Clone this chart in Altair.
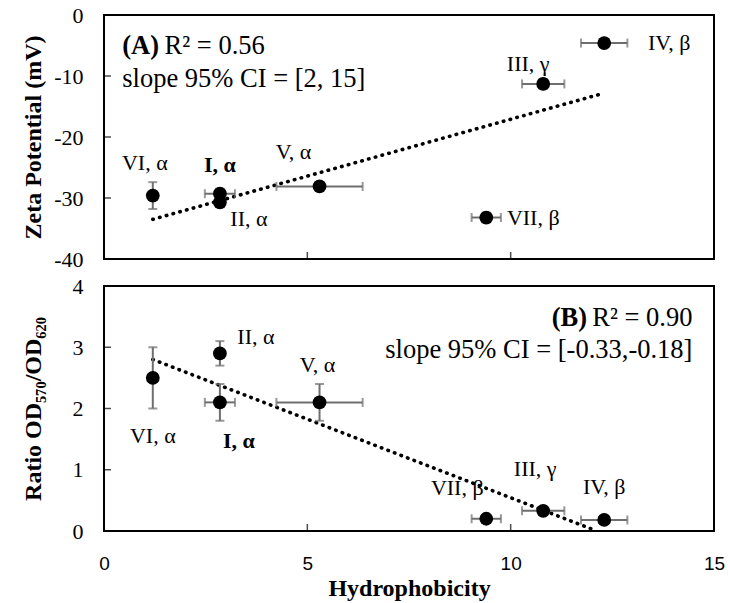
import altair as alt
import pandas as pd

# ---- data ----
groups = ["I, α", "II, α", "III, γ", "IV, β", "V, α", "VI, α", "VII, β"]
hydrophobicity = [2.85, 2.85, 10.8, 12.3, 5.3, 1.2, 9.4]
hydrophobicity_err = [0.37, 0.1, 0.52, 0.57, 1.06, 0.1, 0.36]
zeta = [-29.3, -30.7, -11.3, -4.6, -28.1, -29.6, -33.2]
zeta_err = [0.8, 0.8, 0.8, 0.6, 0.6, 2.2, 0.8]
ratio = [2.1, 2.9, 0.33, 0.18, 2.1, 2.5, 0.2]
ratio_err = [0.3, 0.2, 0.05, 0.05, 0.3, 0.5, 0.05]

trend_x_a = [1.2, 12.3]
trend_y_a = [-33.5, -12.8]
trend_x_b = [1.2, 12.0]
trend_y_b = [2.8, 0.03]

x_ticks = [0, 5, 10, 15]
zeta_ticks = [-40, -30, -20, -10, 0]
ratio_ticks = [0, 1, 2, 3, 4]

# ---- label placement (style) ----
offsets_a = {"I, α": (0, -29), "II, α": (29, 17), "III, γ": (-15, -20), "IV, β": (65, 0),
             "V, α": (-26, -34), "VI, α": (-8, -33), "VII, β": (47, 0)}
offsets_b = {"I, α": (19, 39), "II, α": (36, -16), "III, γ": (-8, -42), "IV, β": (0, -33),
             "V, α": (-2, -37), "VI, α": (0, 58), "VII, β": (-29, -31)}

SERIF = "Liberation Serif"
SANS = "Liberation Sans"
GRAY = "#6e6e6e"
W = 610
LABEL_FS = 22
NOTE_FS = 26.5


def panel(yvals, yerr, ydomain, yticks, trend_x, trend_y, ytitle, offsets, bottom,
          annotations, H):
    df = pd.DataFrame({
        "group": groups,
        "x": hydrophobicity,
        "xlo": [a - b for a, b in zip(hydrophobicity, hydrophobicity_err)],
        "xhi": [a + b for a, b in zip(hydrophobicity, hydrophobicity_err)],
        "y": yvals,
        "ylo": [a - b for a, b in zip(yvals, yerr)],
        "yhi": [a + b for a, b in zip(yvals, yerr)],
    })
    xs = alt.Scale(domain=[0, 15], nice=False, zero=False)
    ys = alt.Scale(domain=ydomain, nice=False, zero=False)
    if bottom:
        xaxis = alt.Axis(values=x_ticks, labelFont=SANS, labelFontSize=19, labelPadding=23,
                         labelBaseline="top", labelFlush=False, labelAlign="center",
                         title="Hydrophobicity", titleX=W / 2,
                         titleY=57, titleBaseline="middle", titleAlign="center")
    else:
        xaxis = alt.Axis(labels=False, title=None, values=x_ticks)
    yaxis = alt.Axis(values=yticks, labelExpr="'' + datum.value", labelPadding=21,
                     labelFlush=False, labelBaseline="middle",
                     title=ytitle, titleX=-71, titleY=H / 2, titleAngle=270,
                     titleAlign="center", titleBaseline="middle")

    def X(f):
        return alt.X(f, type="quantitative", scale=xs, axis=xaxis)

    def Y(f):
        return alt.Y(f, type="quantitative", scale=ys, axis=yaxis)

    base = alt.Chart(df)
    layers = []
    tdf = pd.DataFrame({"tx": trend_x, "ty": trend_y})
    layers.append(alt.Chart(tdf).mark_line(color="black", strokeWidth=3.6,
                                           strokeDash=[0.5, 6.5], strokeCap="round")
                  .encode(x=X("tx"), y=Y("ty")))
    layers.append(base.mark_rule(color=GRAY, strokeWidth=2).encode(x=X("xlo"), x2="xhi", y=Y("y")))
    layers.append(base.mark_tick(color=GRAY, orient="vertical", size=9, thickness=2)
                  .encode(x=X("xlo"), y=Y("y")))
    layers.append(base.mark_tick(color=GRAY, orient="vertical", size=9, thickness=2)
                  .encode(x=X("xhi"), y=Y("y")))
    layers.append(base.mark_rule(color=GRAY, strokeWidth=2).encode(x=X("x"), y=Y("ylo"), y2="yhi"))
    layers.append(base.mark_tick(color=GRAY, orient="horizontal", size=9, thickness=2)
                  .encode(x=X("x"), y=Y("ylo")))
    layers.append(base.mark_tick(color=GRAY, orient="horizontal", size=9, thickness=2)
                  .encode(x=X("x"), y=Y("yhi")))
    layers.append(base.mark_circle(color="black", size=190, opacity=1).encode(x=X("x"), y=Y("y")))
    for g in groups:
        dx, dy = offsets[g]
        bold = g.startswith("I,")
        layers.append(base.transform_filter(alt.datum.group == g)
                      .mark_text(font=SERIF, fontSize=LABEL_FS, color="black", dx=dx, dy=dy,
                                 fontWeight="bold" if bold else "normal")
                      .encode(x=X("x"), y=Y("y"), text="group:N"))
    # inner axis ticks
    xt = pd.DataFrame({"v": x_ticks[1:-1], "b": [ydomain[0]] * (len(x_ticks) - 2)})
    layers.append(alt.Chart(xt).mark_tick(color="black", orient="vertical", size=7,
                                          thickness=1.5, yOffset=-3.5)
                  .encode(x=X("v"), y=Y("b")))
    yt = pd.DataFrame({"v": yticks[1:-1], "b": [0] * (len(yticks) - 2)})
    layers.append(alt.Chart(yt).mark_tick(color="black", orient="horizontal", size=7,
                                          thickness=1.5, xOffset=3.5)
                  .encode(x=X("b"), y=Y("v")))
    for txt, ax, ay, align, weight in annotations:
        adf = pd.DataFrame({"t": [txt], "ax": [ax], "ay": [ay]})
        layers.append(alt.Chart(adf).mark_text(font=SERIF, fontSize=NOTE_FS, color="black",
                                               align=align, baseline="middle",
                                               fontWeight=weight)
                      .encode(x=X("ax"), y=Y("ay"), text="t:N"))
    return alt.layer(*layers).properties(width=W, height=H)


top = panel(zeta, zeta_err, [-40, 0], zeta_ticks, trend_x_a, trend_y_a,
            "Zeta Potential (mV)", offsets_a, False,
            [("(A)", 0.45, -5.1, "left", "bold"),
             ("R² = 0.56", 1.49, -5.1, "left", "normal"),
             ("slope 95% CI = [2, 15]", 0.45, -10.5, "left", "normal")], 244)
bot = panel(ratio, ratio_err, [0, 4], ratio_ticks, trend_x_b, trend_y_b,
            "Ratio OD₅₇₀/OD₆₂₀", offsets_b, True,
            [("(B)", 11.88, 3.47, "right", "bold"),
             ("R² = 0.90", 14.47, 3.47, "right", "normal"),
             ("slope 95% CI = [-0.33,-0.18]", 14.47, 2.95, "right", "normal")], 245)

chart = (alt.vconcat(top, bot, spacing=27, bounds="flush")
         .properties(padding={"left": 20, "top": 3, "right": 4, "bottom": 0},
                     background="white")
         .configure_view(stroke="black", strokeWidth=2)
         .configure_axis(grid=False, domain=False, ticks=False, labelFont=SERIF,
                         labelFontSize=22, labelColor="black", titleFont=SERIF,
                         titleFontSize=24, titleFontWeight="bold", titleColor="black"))

chart.save("out.html", embed_options={"renderer": "svg", "actions": False})
